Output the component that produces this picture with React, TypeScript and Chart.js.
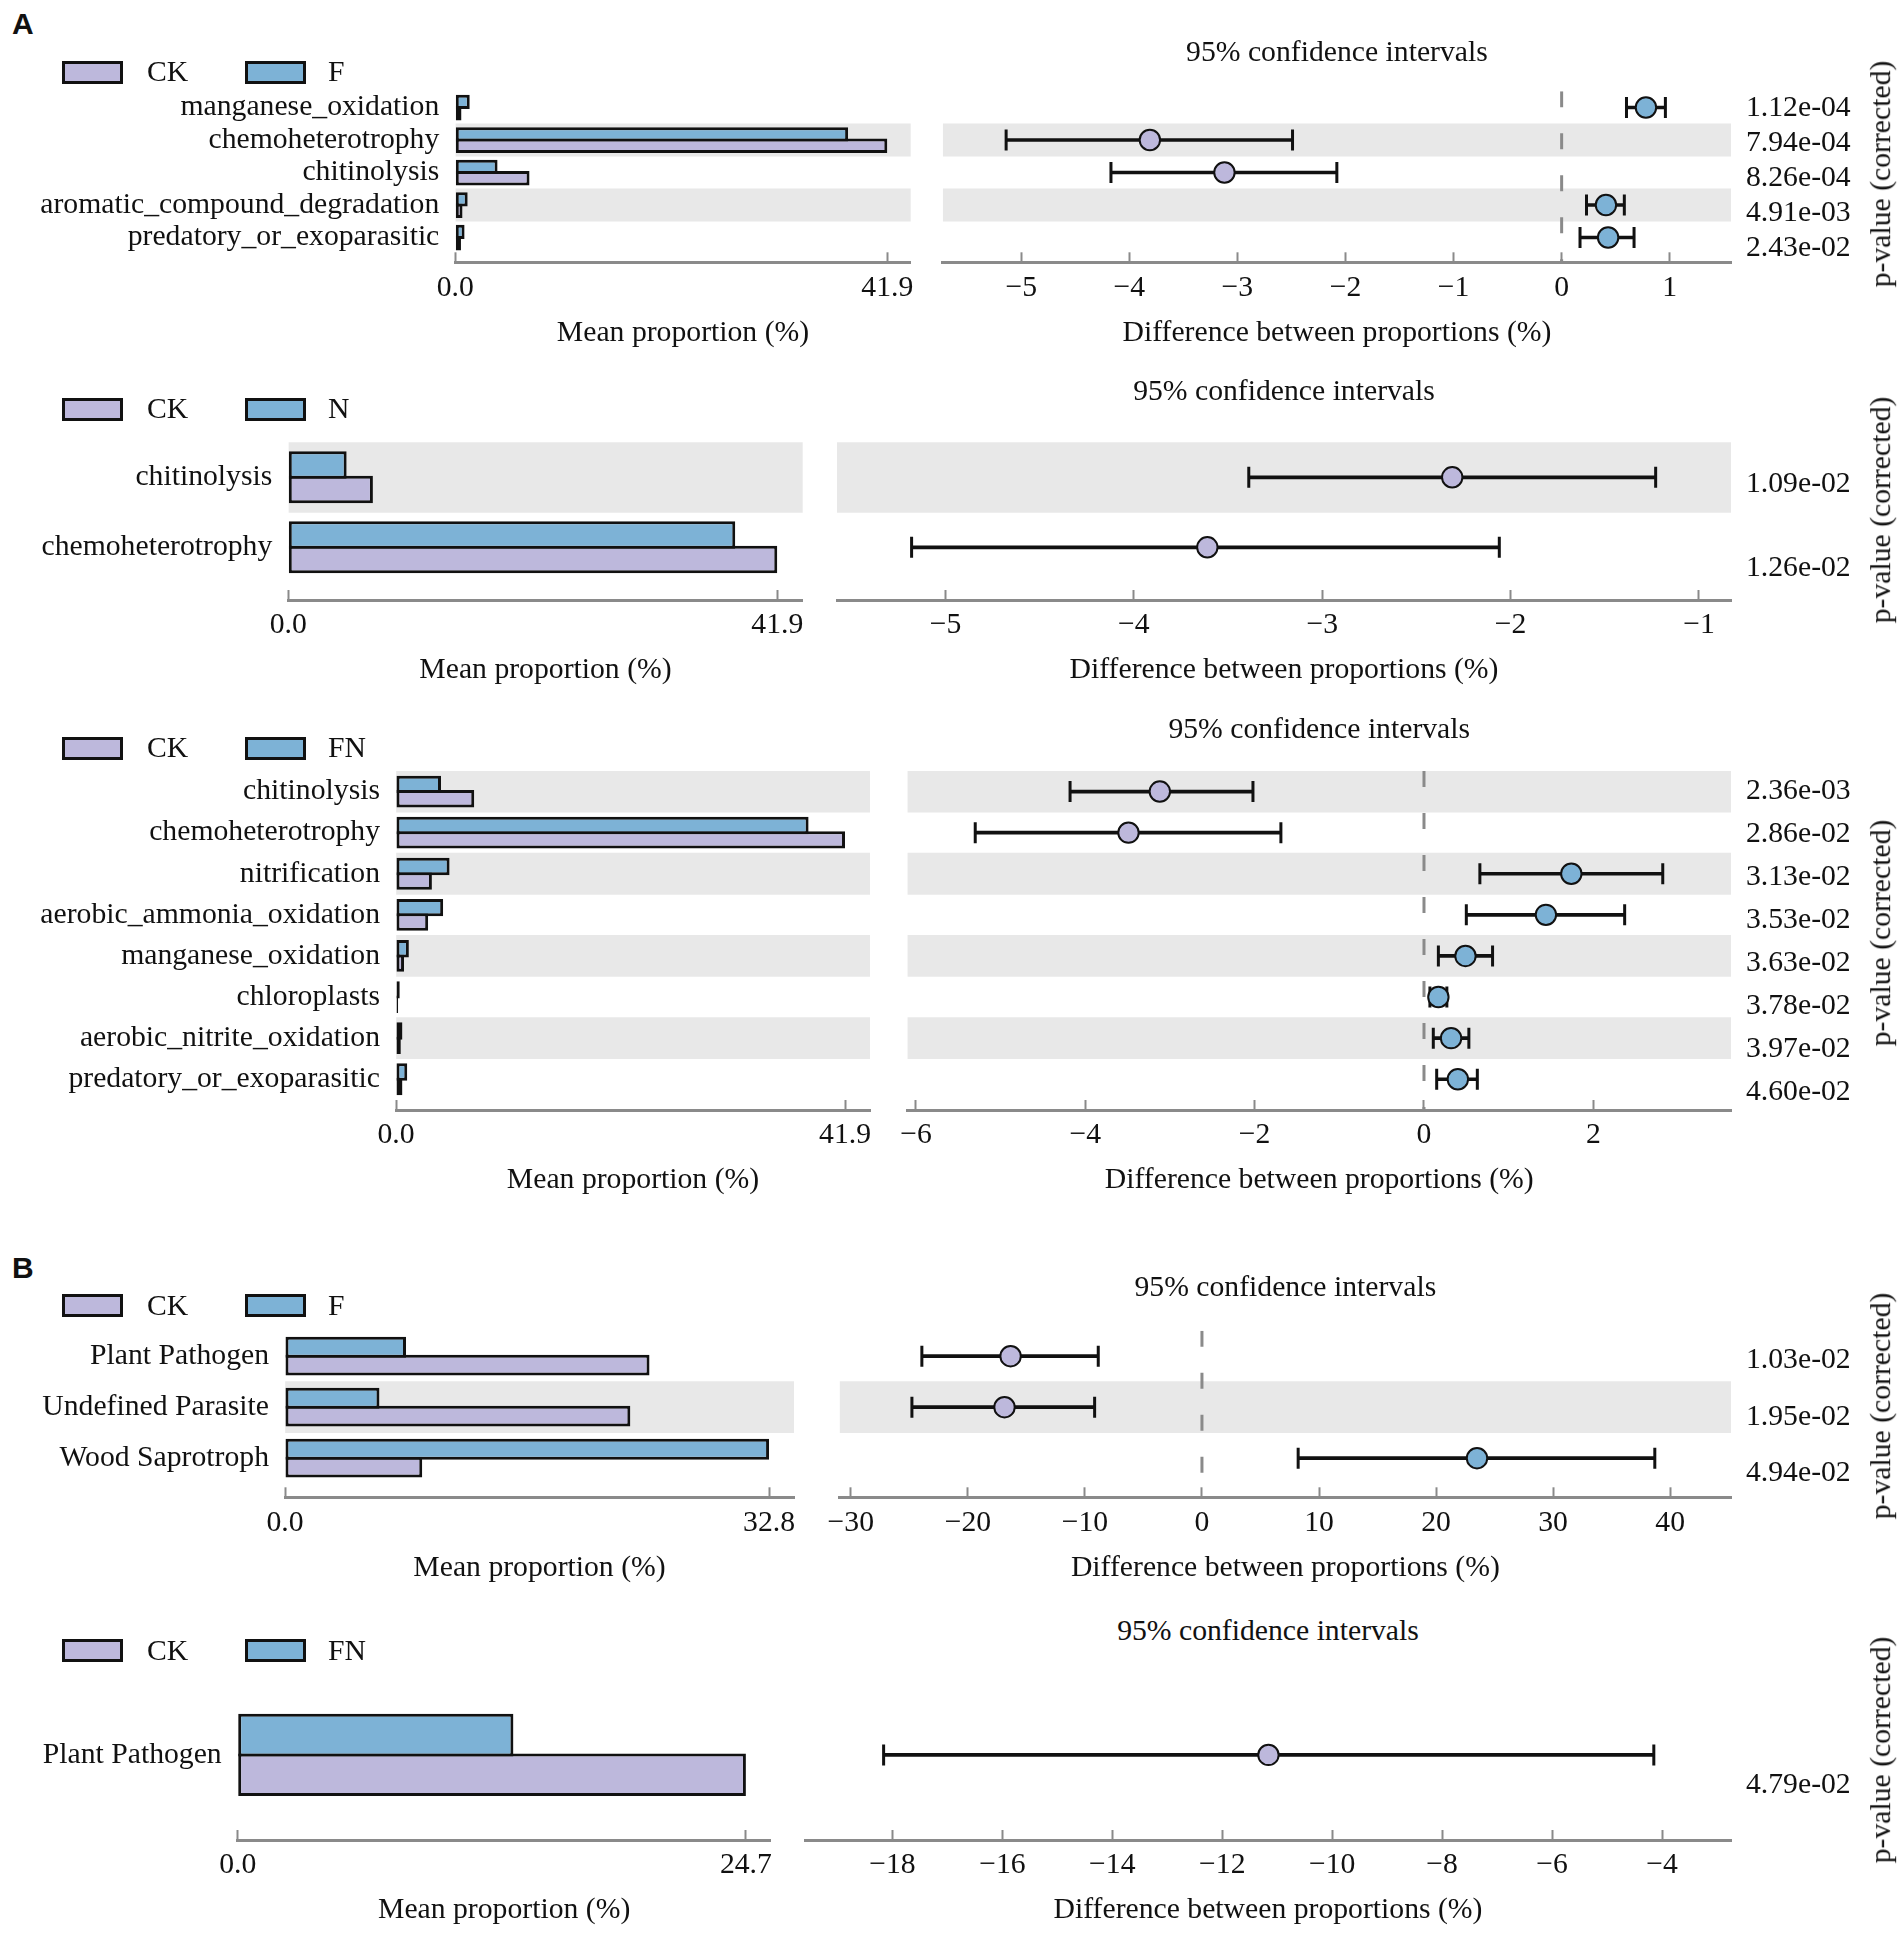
import React, { useEffect, useRef } from 'react';
import { Chart, registerables } from 'chart.js';

Chart.register(...registerables);

// ---------------- DATA ----------------
// Panel A1: CK vs F
const a1Features = ['manganese_oxidation', 'chemoheterotrophy', 'chitinolysis', 'aromatic_compound_degradation', 'predatory_or_exoparasitic'];
const a1CK = [0.6, 41.9, 7.2, 0.7, 0.55];
const a1F = [1.4, 38.1, 4.1, 1.2, 0.9];
const a1Diff = [0.78, -3.81, -3.12, 0.41, 0.43];
const a1Lower = [0.6, -5.14, -4.17, 0.23, 0.17];
const a1Upper = [0.96, -2.49, -2.08, 0.58, 0.67];
const a1P = ['1.12e-04', '7.94e-04', '8.26e-04', '4.91e-03', '2.43e-02'];
const a1DiffTicks = [-5, -4, -3, -2, -1, 0, 1];
const a1MeanTick = 41.9;

// Panel A2: CK vs N
const a2Features = ['chitinolysis', 'chemoheterotrophy'];
const a2CK = [7.25, 41.9];
const a2N = [5.0, 38.3];
const a2Diff = [-2.31, -3.61];
const a2Lower = [-3.39, -5.18];
const a2Upper = [-1.23, -2.06];
const a2P = ['1.09e-02', '1.26e-02'];
const a2DiffTicks = [-5, -4, -3, -2, -1];
const a2MeanTick = 41.9;

// Panel A3: CK vs FN
const a3Features = ['chitinolysis', 'chemoheterotrophy', 'nitrification', 'aerobic_ammonia_oxidation', 'manganese_oxidation', 'chloroplasts', 'aerobic_nitrite_oxidation', 'predatory_or_exoparasitic'];
const a3CK = [7.3, 41.9, 3.35, 3.0, 0.75, 0.2, 0.45, 0.6];
const a3FN = [4.2, 38.5, 5.0, 4.4, 1.2, 0.35, 0.6, 1.05];
const a3Diff = [-3.12, -3.49, 1.74, 1.44, 0.49, 0.17, 0.32, 0.4];
const a3Lower = [-4.18, -5.3, 0.66, 0.5, 0.17, 0.07, 0.11, 0.15];
const a3Upper = [-2.02, -1.69, 2.82, 2.37, 0.81, 0.27, 0.53, 0.63];
const a3P = ['2.36e-03', '2.86e-02', '3.13e-02', '3.53e-02', '3.63e-02', '3.78e-02', '3.97e-02', '4.60e-02'];
const a3DiffTicks = [-6, -4, -2, 0, 2];
const a3MeanTick = 41.9;

// Panel B1: CK vs F
const b1Features = ['Plant Pathogen', 'Undefined Parasite', 'Wood Saprotroph'];
const b1CK = [24.7, 23.4, 9.3];
const b1F = [8.2, 6.4, 32.8];
const b1Diff = [-16.35, -16.87, 23.5];
const b1Lower = [-23.93, -24.78, 8.22];
const b1Upper = [-8.86, -9.17, 38.69];
const b1P = ['1.03e-02', '1.95e-02', '4.94e-02'];
const b1DiffTicks = [-30, -20, -10, 0, 10, 20, 30, 40];
const b1MeanTick = 32.8;

// Panel B2: CK vs FN
const b2Features = ['Plant Pathogen'];
const b2CK = [24.7];
const b2FN = [13.4];
const b2Diff = [-11.16];
const b2Lower = [-18.16];
const b2Upper = [-4.15];
const b2P = ['4.79e-02'];
const b2DiffTicks = [-18, -16, -14, -12, -10, -8, -6, -4];
const b2MeanTick = 24.7;

// ---------------- STYLE / LAYOUT ----------------
const FONT_FAMILY = '"Liberation Serif", "Times New Roman", Times, serif';
const FONT_SIZE = 29.7;
const TEXT = '#111111';
const EDGE = '#111111';
const CK_COLOR = '#bdb8dc';
const TRT_COLOR = '#7db2d6';
const BAND = '#e8e8e8';
const AXIS_GRAY = '#8a8a8a';

const PAD = 45;
const XAXIS_H = 88.4;
const YP_W = 170;
const TICK_LEN = -10;
const TICK_PAD = 25.5 - (FONT_SIZE * 1.2) / 2 - TICK_LEN;
const BAR_BORDER = 3;
const CAT_PCT = 0.7;

const geomA1 = { rowTop: 91.25, rowPitch: 32.5, axisY: 262.3, barLeft: 455.3, barRight: 910.7, meanMax: 44.17, ciLeft: 942.9, ciRight: 1731, diffMin: -5.725, diffMax: 1.567, pFirst: 108, pLast: 248, legendY: 72, ciTitleY: 51.8, pLabelY: 173.9 };
const geomA2 = { rowTop: 442.3, rowPitch: 70, axisY: 600, barLeft: 288.3, barRight: 802.7, meanMax: 44.08, ciLeft: 837, ciRight: 1731, diffMin: -5.576, diffMax: -0.83, pFirst: 484.6, pLast: 568.4, legendY: 409.4, ciTitleY: 390.9, pLabelY: 509.8 };
const geomA3 = { rowTop: 771, rowPitch: 41.1, axisY: 1110, barLeft: 396, barRight: 870, meanMax: 44.23, ciLeft: 907.5, ciRight: 1731, diffMin: -6.1, diffMax: 3.626, pFirst: 790.7, pLast: 1092.3, legendY: 748.4, ciTitleY: 728.7, pLabelY: 932.8 };
const geomB1 = { rowTop: 1330.7, rowPitch: 51, axisY: 1497.3, barLeft: 285, barRight: 794, meanMax: 34.49, ciLeft: 839.7, ciRight: 1731, diffMin: -30.95, diffMax: 45.2, pFirst: 1360, pLast: 1473.4, legendY: 1305.7, ciTitleY: 1287.3, pLabelY: 1405.6 };
const geomB2 = { rowTop: 1698.4, rowPitch: 113, axisY: 1840, barLeft: 237.7, barRight: 770.6, meanMax: 25.9, ciLeft: 805, ciRight: 1731, diffMin: -19.59, diffMax: -2.746, pFirst: 1785.4, pLast: 1785.4, legendY: 1650.7, ciTitleY: 1631.3, pLabelY: 1749.6 };

const panels = [
  { key: 'a1', features: a1Features, ck: a1CK, trt: a1F, trtName: 'F', diff: a1Diff, lower: a1Lower, upper: a1Upper, pvals: a1P, diffTicks: a1DiffTicks, meanTick: a1MeanTick, geom: geomA1 },
  { key: 'a2', features: a2Features, ck: a2CK, trt: a2N, trtName: 'N', diff: a2Diff, lower: a2Lower, upper: a2Upper, pvals: a2P, diffTicks: a2DiffTicks, meanTick: a2MeanTick, geom: geomA2 },
  { key: 'a3', features: a3Features, ck: a3CK, trt: a3FN, trtName: 'FN', diff: a3Diff, lower: a3Lower, upper: a3Upper, pvals: a3P, diffTicks: a3DiffTicks, meanTick: a3MeanTick, geom: geomA3 },
  { key: 'b1', features: b1Features, ck: b1CK, trt: b1F, trtName: 'F', diff: b1Diff, lower: b1Lower, upper: b1Upper, pvals: b1P, diffTicks: b1DiffTicks, meanTick: b1MeanTick, geom: geomB1 },
  { key: 'b2', features: b2Features, ck: b2CK, trt: b2FN, trtName: 'FN', diff: b2Diff, lower: b2Lower, upper: b2Upper, pvals: b2P, diffTicks: b2DiffTicks, meanTick: b2MeanTick, geom: geomB2 },
];

const font = { family: FONT_FAMILY, size: FONT_SIZE, lineHeight: 1.2 };

function bandRows(n: number) {
  const rows: number[] = [];
  for (let i = 0; i < n; i++) if ((n - 1 - i) % 2 === 1) rows.push(i);
  return rows;
}

function rowTicks(n: number) {
  const t = [];
  for (let i = 0; i < n; i++) t.push({ value: i });
  if (n === 1) t.push({ value: 1 });
  return t;
}

const minus = (v: number) => (v < 0 ? '\u2212' + Math.abs(v) : String(v));

function makeBarChart(canvas: HTMLCanvasElement, p: any, cTop: number, W: number, H: number) {
  const g = p.geom;
  const n = p.features.length;
  const rowMax = (g.axisY - g.rowTop) / g.rowPitch - 0.5;
  const barPct = 1 + BAR_BORDER / ((g.rowPitch * CAT_PCT) / 2);
  const banded = bandRows(n);
  return new Chart(canvas, {
    type: 'bar',
    data: {
      datasets: [
        { label: p.trtName, data: p.trt.map((v: number, i: number) => ({ x: v, y: i })), backgroundColor: TRT_COLOR, borderColor: EDGE, borderWidth: BAR_BORDER, borderSkipped: false, categoryPercentage: CAT_PCT, barPercentage: barPct, xAxisID: 'x', yAxisID: 'y', order: 0 },
        { label: 'CK', data: p.ck.map((v: number, i: number) => ({ x: v, y: i })), backgroundColor: CK_COLOR, borderColor: EDGE, borderWidth: BAR_BORDER, borderSkipped: false, categoryPercentage: CAT_PCT, barPercentage: barPct, xAxisID: 'x', yAxisID: 'y', order: 0 },
        { label: 'band', data: banded.map((i) => ({ x: g.meanMax, y: i })), backgroundColor: BAND, borderWidth: 0, grouped: false, categoryPercentage: 1, barPercentage: 1, xAxisID: 'x', yAxisID: 'y', order: 1 },
      ],
    },
    options: {
      indexAxis: 'y',
      responsive: false,
      animation: false,
      events: [],
      layout: { padding: { left: 0, top: g.rowTop - cTop, right: W - g.barRight, bottom: H - (g.axisY - cTop) - XAXIS_H } },
      plugins: { legend: { display: false }, tooltip: { enabled: false } },
      scales: {
        x: {
          type: 'linear', position: 'bottom', min: 0, max: g.meanMax, bounds: 'data', beginAtZero: false,
          afterBuildTicks: (s: any) => { s.ticks = [{ value: 0 }, { value: p.meanTick }]; },
          afterFit: (s: any) => { s.height = XAXIS_H; },
          ticks: { callback: (v: any) => Number(v).toFixed(1), font, color: TEXT, padding: TICK_PAD, autoSkip: false, maxRotation: 0 },
          grid: { display: true, drawOnChartArea: false, drawTicks: true, tickLength: TICK_LEN, tickColor: AXIS_GRAY, tickWidth: 2 },
          border: { display: true, color: AXIS_GRAY, width: 3 },
          title: { display: true, text: 'Mean proportion (%)', font, color: TEXT, padding: 0 },
        },
        y: {
          type: 'linear', position: 'left', reverse: true, min: -0.5, max: rowMax, bounds: 'data', offset: false,
          afterBuildTicks: (s: any) => { s.ticks = rowTicks(n); },
          afterFit: (s: any) => { s.width = g.barLeft; },
          ticks: { callback: (v: any) => p.features[v] ?? '', font, color: TEXT, padding: 16, autoSkip: false },
          grid: { display: false, drawTicks: false, offset: false },
          border: { display: false },
        },
      },
    },
  } as any);
}

function makeCIChart(canvas: HTMLCanvasElement, p: any, cTop: number, cLeft: number, W: number, H: number) {
  const g = p.geom;
  const n = p.features.length;
  const rowMax = (g.axisY - g.rowTop) / g.rowPitch - 0.5;
  const banded = bandRows(n);
  const areaH = g.axisY - g.rowTop;
  const pRange = n > 1 ? ((n - 1) * areaH) / (g.pLast - g.pFirst) : 1;
  const pMin = -((g.pFirst - g.rowTop) / areaH) * pRange;
  const pMax = pMin + pRange;
  const caps: any[] = [];
  p.lower.forEach((lo: number, i: number) => { caps.push({ x: lo, y: i }); caps.push({ x: p.upper[i], y: i }); });
  const datasets: any[] = [
    { type: 'scatter', label: 'diff', data: p.diff.map((d: number, i: number) => ({ x: d, y: i })), pointRadius: 10.2, pointHoverRadius: 10.2, pointBackgroundColor: p.diff.map((d: number) => (d < 0 ? CK_COLOR : TRT_COLOR)), pointBorderColor: EDGE, pointBorderWidth: 2, xAxisID: 'x', yAxisID: 'y', order: 0 },
    { type: 'scatter', label: 'caps', data: caps, pointStyle: 'line', pointRotation: 90, pointRadius: 10.5, pointHoverRadius: 10.5, pointBorderColor: EDGE, pointBorderWidth: 3, xAxisID: 'x', yAxisID: 'y', order: 1 },
    { type: 'bar', label: 'ci', data: p.lower.map((lo: number, i: number) => ({ x: [lo, p.upper[i]], y: i })), backgroundColor: EDGE, borderWidth: 0, grouped: false, categoryPercentage: 1, barPercentage: 1, maxBarThickness: 3, xAxisID: 'x', yAxisID: 'y', order: 2 },
  ];
  if (g.diffMin < 0 && g.diffMax > 0) {
    datasets.push({ type: 'line', label: 'zero', data: [{ x: 0, y: -0.5 }, { x: 0, y: rowMax }], borderColor: AXIS_GRAY, borderWidth: 3, borderDash: [16, 26], pointRadius: 0, fill: false, tension: 0, xAxisID: 'x', yAxisID: 'y', order: 3 });
  }
  datasets.push({ type: 'bar', label: 'band', data: banded.map((i) => ({ x: [g.diffMin, g.diffMax], y: i })), backgroundColor: BAND, borderWidth: 0, grouped: false, categoryPercentage: 1, barPercentage: 1, xAxisID: 'x', yAxisID: 'y', order: 4 });

  const areaLeft = g.ciLeft - cLeft;
  const areaRight = g.ciRight - cLeft;
  return new Chart(canvas, {
    type: 'bar',
    data: { datasets },
    options: {
      indexAxis: 'y',
      responsive: false,
      animation: false,
      events: [],
      layout: { padding: { left: areaLeft, top: g.rowTop - cTop, right: W - YP_W - areaRight, bottom: H - (g.axisY - cTop) - XAXIS_H } },
      plugins: { legend: { display: false }, tooltip: { enabled: false } },
      scales: {
        x: {
          type: 'linear', position: 'bottom', min: g.diffMin, max: g.diffMax, bounds: 'data', beginAtZero: false,
          afterBuildTicks: (s: any) => { s.ticks = p.diffTicks.map((v: number) => ({ value: v })); },
          afterFit: (s: any) => { s.height = XAXIS_H; },
          ticks: { callback: (v: any) => minus(Number(v)), font, color: TEXT, padding: TICK_PAD, autoSkip: false, maxRotation: 0 },
          grid: { display: true, drawOnChartArea: false, drawTicks: true, tickLength: TICK_LEN, tickColor: AXIS_GRAY, tickWidth: 2 },
          border: { display: true, color: AXIS_GRAY, width: 3 },
          title: { display: true, text: 'Difference between proportions (%)', font, color: TEXT, padding: 0 },
        },
        y: {
          type: 'linear', position: 'left', display: false, reverse: true, min: -0.5, max: rowMax, bounds: 'data', offset: false,
          afterBuildTicks: (s: any) => { s.ticks = rowTicks(n); },
          grid: { display: false, drawTicks: false, offset: false },
        },
        yp: {
          type: 'linear', axis: 'y', position: 'right', reverse: true, min: pMin, max: pMax, bounds: 'data', offset: false,
          afterBuildTicks: (s: any) => { s.ticks = p.pvals.map((_: string, i: number) => ({ value: i })); },
          afterFit: (s: any) => { s.width = YP_W; },
          ticks: { callback: (v: any) => p.pvals[v] ?? '', font, color: TEXT, padding: 15, autoSkip: false },
          grid: { display: false, drawTicks: false },
          border: { display: false },
        },
      },
    },
  } as any);
}

const textBase: React.CSSProperties = {
  position: 'absolute',
  fontFamily: FONT_FAMILY,
  fontSize: FONT_SIZE,
  lineHeight: 1,
  color: TEXT,
  whiteSpace: 'nowrap',
};

function PanelView({ p }: { p: any }) {
  const g = p.geom;
  const barRef = useRef<HTMLCanvasElement>(null);
  const ciRef = useRef<HTMLCanvasElement>(null);
  const cTop = Math.floor(g.rowTop - PAD);
  const H = Math.ceil(g.axisY + XAXIS_H - cTop) + 2;
  const barW = Math.ceil(g.barRight + PAD);
  const ciL = Math.floor(g.ciLeft - PAD);
  const ciW = Math.ceil(g.ciRight + YP_W + 10 - ciL);

  useEffect(() => {
    const b = makeBarChart(barRef.current as HTMLCanvasElement, p, cTop, barW, H);
    const c = makeCIChart(ciRef.current as HTMLCanvasElement, p, cTop, ciL, ciW, H);
    return () => { b.destroy(); c.destroy(); };
  }, []);

  const box = (left: number, color: string): React.CSSProperties => ({
    position: 'absolute', left, top: g.legendY - 11.5, width: 61, height: 23, boxSizing: 'border-box', border: '3px solid ' + EDGE, background: color,
  });

  return (
    <>
      <canvas ref={barRef} width={barW} height={H} style={{ position: 'absolute', left: 0, top: cTop, width: barW, height: H }} />
      <canvas ref={ciRef} width={ciW} height={H} style={{ position: 'absolute', left: ciL, top: cTop, width: ciW, height: H }} />
      <div style={box(61.7, CK_COLOR)} />
      <div style={{ ...textBase, left: 147, top: g.legendY, transform: 'translateY(-50%)' }}>CK</div>
      <div style={box(244.5, TRT_COLOR)} />
      <div style={{ ...textBase, left: 328, top: g.legendY, transform: 'translateY(-50%)' }}>{p.trtName}</div>
      <div style={{ ...textBase, left: (g.ciLeft + g.ciRight) / 2, top: g.ciTitleY, transform: 'translate(-50%, -50%)' }}>95% confidence intervals</div>
      <div style={{ ...textBase, left: 1881, top: g.pLabelY, transform: 'translate(-50%, -50%) rotate(-90deg)' }}>p-value (corrected)</div>
    </>
  );
}

export default function App() {
  useEffect(() => {
    document.body.style.margin = '0';
    document.body.style.background = '#ffffff';
  }, []);
  const letter: React.CSSProperties = {
    position: 'absolute', left: 12, fontFamily: '"Liberation Sans", Arial, sans-serif', fontWeight: 'bold', fontSize: 30, lineHeight: 1, color: TEXT, transform: 'translateY(-50%)',
  };
  return (
    <div style={{ position: 'absolute', left: 0, top: 0, width: 1904, height: 1933, background: '#ffffff', overflow: 'hidden' }}>
      <div style={{ ...letter, top: 24 }}>A</div>
      <div style={{ ...letter, top: 1267.5 }}>B</div>
      {panels.map((p) => (
        <PanelView key={p.key} p={p} />
      ))}
    </div>
  );
}
